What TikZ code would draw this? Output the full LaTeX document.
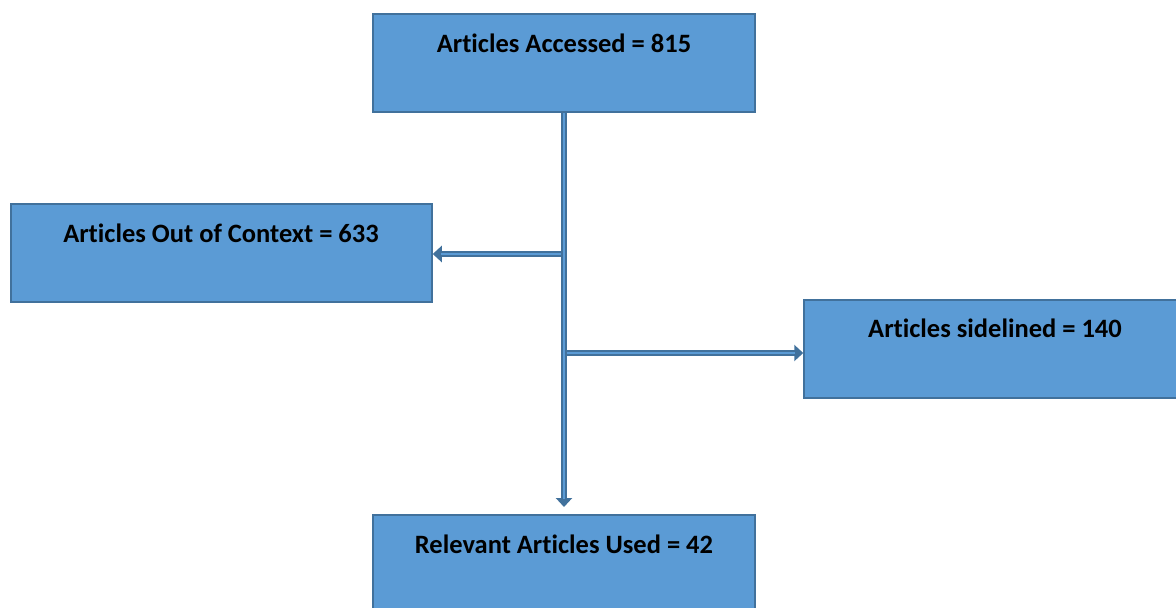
\documentclass[tikz,border=0pt]{standalone}
\usepackage{fontspec}
\setmainfont{Carlito}[Ligatures=NoCommon]
\usetikzlibrary{arrows.meta}
\definecolor{boxfill}{HTML}{5B9BD5}
\definecolor{boxline}{HTML}{41719C}
\tikzset{
  box/.style={draw=boxline, fill=boxfill, line width=1.5pt, rectangle, inner sep=0pt},
  lbl/.style={font=\fontsize{26.5}{30}\selectfont\bfseries, text=black, inner sep=0pt},
  outer/.style={draw=boxline, line width=6pt},
  outerarr/.style={draw=boxline, line width=6pt, -{Triangle[length=9pt,width=16pt]}},
  inner/.style={draw=boxfill, line width=2pt}
}
\begin{document}
\begin{tikzpicture}[x=1pt,y=-1pt]
\useasboundingbox (0,0) rectangle (1176,608);
% boxes
\node[box, minimum width=382pt, minimum height=98pt] (top) at (564,63) {};
\node[box, minimum width=421pt, minimum height=98pt] (left) at (221.5,253) {};
\node[box, minimum width=376pt, minimum height=98pt] (right) at (992,349) {};
\node[box, minimum width=382pt, minimum height=98pt] (bot) at (564,564) {};
% labels
\node[lbl] (ttop) at (564,43) {Articles Accessed = 815};
\node[lbl] (tleft) at (221,233) {Articles Out of Context = 633};
\node[lbl] (tright) at (995,328) {Articles sidelined = 140};
\node[lbl] (tbot) at (564,544) {Relevant Articles Used = 42};
% junctions
\coordinate (j1) at (564,254);
\coordinate (j2) at (564,353);
\coordinate (bend) at (564,507);
% trunk
\draw[outerarr] (top.south) -- (bend);
\draw[inner, shorten >=8pt] (top.south) -- (bend);
% left branch
\draw[outerarr] (j1) -- (j1 -| left.east);
\draw[inner, shorten >=8pt, shorten <=3pt] (j1) -- (j1 -| left.east);
% right branch
\draw[outerarr] (j2) -- (j2 -| right.west);
\draw[inner, shorten >=8pt, shorten <=3pt] (j2) -- (j2 -| right.west);
% re-draw trunk inner over junctions
\draw[inner, shorten >=8pt] (top.south) -- (bend);
\end{tikzpicture}
\end{document}
